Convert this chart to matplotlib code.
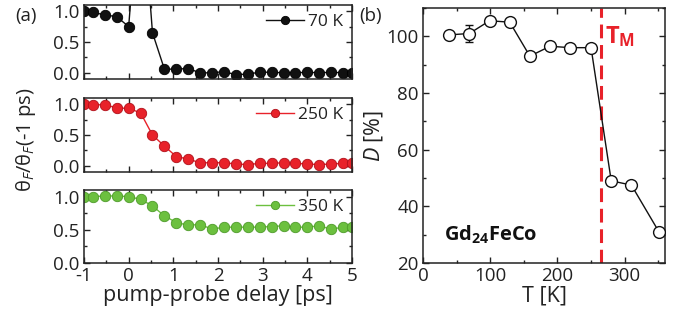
import matplotlib
matplotlib.use("Agg")
import matplotlib.pyplot as plt
from matplotlib.ticker import MultipleLocator

plt.rcParams['font.family'] = ['Open Sans', 'DejaVu Sans']
plt.rcParams['mathtext.fontset'] = 'custom'
plt.rcParams['mathtext.rm'] = 'Open Sans'
plt.rcParams['mathtext.it'] = 'Open Sans:italic'
plt.rcParams['mathtext.bf'] = 'Open Sans:bold'
plt.rcParams['axes.unicode_minus'] = False

# ---------------- data ----------------
delay = [-1.0, -0.8, -0.533, -0.267, 0.0, 0.267, 0.533, 0.8, 1.067, 1.333, 1.6,
         1.867, 2.133, 2.4, 2.667, 2.933, 3.2, 3.467, 3.733, 4.0, 4.267, 4.533,
         4.8, 5.0]
theta_70K = [1.0, 0.98, 0.94, 0.91, 0.75, 3.2, 0.65, 0.06, 0.06, 0.07, 0.0,
             0.0, 0.02, -0.03, -0.02, 0.01, 0.01, 0.0, 0.0, 0.01, 0.0, 0.01,
             0.0, 0.0]
theta_250K = [1.0, 0.99, 0.99, 0.94, 0.93, 0.86, 0.50, 0.32, 0.15, 0.11, 0.05,
              0.05, 0.05, 0.03, 0.02, 0.04, 0.04, 0.05, 0.04, 0.03, 0.02, 0.03,
              0.04, 0.04]
theta_350K = [1.0, 1.0, 1.01, 1.01, 1.0, 0.96, 0.86, 0.71, 0.61, 0.57, 0.58,
              0.51, 0.54, 0.54, 0.54, 0.54, 0.55, 0.56, 0.54, 0.54, 0.56, 0.51,
              0.54, 0.54]
series_labels = ['70 K', '250 K', '350 K']
series_colors = ['#111111', '#e8222a', '#6cc03f']
series_edges = ['#000000', '#b0101a', '#4e9a2a']

temp = [38, 69, 99, 129, 159, 189, 219, 250, 280, 310, 351]
D = [100.5, 101.0, 105.5, 105.0, 93.0, 96.5, 96.0, 96.0, 49.0, 47.5, 31.0]
D_err = [0, 3.0, 0, 0, 0, 0, 0, 0, 0, 0, 0]
T_M = 265

W, H = 673, 322
fig = plt.figure(figsize=(W / 100, H / 100), dpi=100)

def ax_px(l, t, r, b):
    return fig.add_axes([l / W, 1 - b / H, (r - l) / W, (b - t) / H])

txtc = '#222222'
tick_fs = 13.5
label_fs = 15.5

def style(ax):
    for s in ax.spines.values():
        s.set_linewidth(1.1)
        s.set_color('#222222')
    ax.tick_params(which='both', direction='in', top=True, right=True,
                   colors='#222222', labelcolor=txtc, labelsize=tick_fs, width=1.0)
    ax.tick_params(which='major', length=4.5, pad=3)
    ax.tick_params(which='minor', length=2.5)

panels_a = [(5, 79), (98, 172), (190, 263)]
ylims = [(-0.1, 1.1), (-0.1, 1.1), (0.0, 1.1)]
data_a = [theta_70K, theta_250K, theta_350K]
for i, (t, b) in enumerate(panels_a):
    ax = ax_px(84, t, 352, b)
    style(ax)
    ax.plot(delay, data_a[i], '-o', color=series_colors[i], lw=1.0,
            ms=7.5, mfc=series_colors[i], mec=series_edges[i], mew=0.6,
            label=series_labels[i])
    ax.set_xlim(-1, 5)
    ax.set_ylim(*ylims[i])
    ax.xaxis.set_major_locator(MultipleLocator(1))
    ax.xaxis.set_minor_locator(MultipleLocator(0.5))
    ax.yaxis.set_major_locator(MultipleLocator(0.5))
    ax.yaxis.set_minor_locator(MultipleLocator(0.25))
    ax.set_yticklabels([f'{v:.1f}' for v in ax.get_yticks()])
    if i < 2:
        ax.tick_params(labelbottom=False)
    else:
        ax.set_xlabel('pump-probe delay [ps]', fontsize=label_fs, color=txtc, labelpad=0)
    leg = ax.legend(loc='upper right', frameon=False, fontsize=12.5,
                    handlelength=2.2, handletextpad=0.25, borderaxespad=0.1,
                    markerscale=0.8, bbox_to_anchor=(1.0, 1.0))
    for tx in leg.get_texts():
        tx.set_color(txtc)

fig.text(26 / W, 1 - 140 / H, r'$\mathrm{\theta}_{\mathit{F}}/\mathrm{\theta}_{\mathit{F}}\mathrm{(}$-1 ps)',
         rotation=90, ha='center', va='center', fontsize=14.5, color=txtc)
fig.text(26 / W, 1 - 16 / H, '(a)', ha='center', va='center', fontsize=13.5, color=txtc)

# ---------------- panel b ----------------
axb = ax_px(423, 8, 665, 263)
style(axb)
axb.errorbar(temp, D, yerr=D_err, fmt='-o', color='#111111', lw=1.0,
             ms=8.5, mfc='white', mec='#111111', mew=1.0, capsize=3,
             elinewidth=1.0, zorder=3)
axb.axvline(T_M, color='#e8222a', lw=2.2, ls=(0, (4.5, 2.2)), zorder=2)
axb.set_xlim(0, 360)
axb.set_ylim(20, 110)
axb.xaxis.set_major_locator(MultipleLocator(100))
axb.xaxis.set_minor_locator(MultipleLocator(50))
axb.yaxis.set_major_locator(MultipleLocator(20))
axb.yaxis.set_minor_locator(MultipleLocator(10))
axb.set_xlabel('T [K]', fontsize=label_fs, color=txtc, labelpad=0)
axb.set_ylabel(r'$\mathit{D}$ [%]', fontsize=label_fs, color=txtc, labelpad=1)
axb.text(271, 100, r'$\mathbf{T_{M}}$', color='#e8222a', fontsize=17,
         ha='left', va='center')
axb.text(31, 30, r'$\mathbf{Gd_{24}FeCo}$', color='#111111', fontsize=14.5,
         ha='left', va='center')
fig.text(371 / W, 1 - 16 / H, '(b)', ha='center', va='center', fontsize=13.5, color=txtc)

fig.savefig('out.png', dpi=100)
